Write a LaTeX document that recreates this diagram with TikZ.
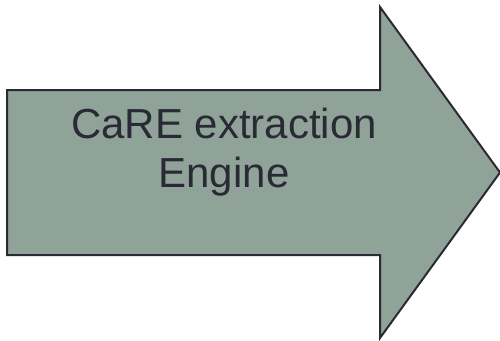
\documentclass[tikz,border=0pt]{standalone}
\usepackage{fontspec}
\setmainfont{Liberation Sans}
\definecolor{arrowfill}{RGB}{144,163,152}
\definecolor{arrowline}{RGB}{42,42,54}
\definecolor{txt}{RGB}{42,42,54}
\begin{document}
\begin{tikzpicture}[x=1pt,y=-1pt,
  bigarrow/.style={fill=arrowfill,draw=arrowline,line width=2pt,line join=miter},
  label/.style={text=txt,font=\fontsize{42}{49}\selectfont,align=center,inner sep=0pt}]
\useasboundingbox (0,0) rectangle (500,340);
\draw[bigarrow] (7,90) -- (380,90) -- (380,7) -- (500,172.5) -- (380,338) -- (380,255) -- (7,255) -- cycle;
\node[label,anchor=base] (t) at (224,187) {CaRE extraction\\Engine};
\end{tikzpicture}
\end{document}
